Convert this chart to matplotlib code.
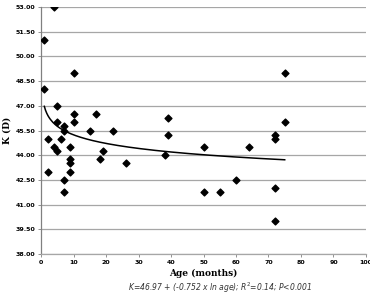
import numpy as np
import matplotlib
matplotlib.use('Agg')
import matplotlib.pyplot as plt

# Age (months) and keratometry K (D)
age = [4, 1, 10, 1, 5, 10, 17, 5, 10, 7, 7, 15, 22, 2, 6, 4, 9, 5, 19,
       18, 9, 9, 26, 2, 9, 7, 7, 39, 39, 38, 50, 64, 75, 75, 72, 72,
       60, 50, 55, 72, 72]
k_value = [53.0, 51.0, 49.0, 48.0, 47.0, 46.5, 46.5, 46.0, 46.0, 45.8,
           45.5, 45.5, 45.5, 45.0, 45.0, 44.5, 44.5, 44.25, 44.25, 43.75,
           43.75, 43.5, 43.5, 43.0, 43.0, 42.5, 41.75, 46.25, 45.25, 44.0,
           44.5, 44.5, 49.0, 46.0, 45.25, 45.0, 42.5, 41.75, 41.75, 42.0,
           40.0]

# logarithmic trendline from the caption
fit_a = 46.97
fit_b = -0.752
fit_range = (1, 75)

y_ticks = [38.0, 39.5, 41.0, 42.5, 44.0, 45.5, 47.0, 48.5, 50.0, 51.5, 53.0]
x_ticks = list(range(0, 101, 10))

fig = plt.figure(figsize=(3.7, 2.96), dpi=100)
ax = fig.add_axes([0.111, 0.142, 0.878, 0.834])

ax.set_xlim(0, 100)
ax.set_ylim(38, 53)
ax.set_yticks(y_ticks)
ax.set_xticks(x_ticks)
ax.set_yticklabels(['%.2f' % v for v in y_ticks], fontsize=4.5, fontweight='bold')
ax.set_xticklabels([str(v) for v in x_ticks], fontsize=4.5, fontweight='bold')

ax.grid(axis='y', color='#a6a6a6', linewidth=0.9)
ax.set_axisbelow(True)
for side in ['top', 'right']:
    ax.spines[side].set_visible(False)
ax.spines['left'].set_color('#808080')
ax.spines['bottom'].set_color('#a6a6a6')
ax.spines['left'].set_linewidth(0.9)
ax.spines['bottom'].set_linewidth(0.9)
ax.tick_params(axis='both', length=2, width=0.6, color='#808080', pad=2)

xs = np.linspace(fit_range[0], fit_range[1], 200)
ax.plot(xs, fit_a + fit_b * np.log(xs), color='black', linewidth=1.1, zorder=2)

ax.scatter(age, k_value, marker='D', s=12, color='black', zorder=3)

ax.set_ylabel('K (D)', fontsize=6.5, fontweight='bold', family='DejaVu Serif', labelpad=3)
ax.set_xlabel('Age (months)', fontsize=6.5, fontweight='bold', family='DejaVu Serif', labelpad=3)

fig.text(0.595, 0.004, 'K=46.97 + (-0.752 x ln age); R$^2$=0.14; P<0.001',
         fontsize=5.5, style='italic', ha='center', va='bottom', color='#333333')

fig.savefig('out.png', dpi=100, facecolor='white')
